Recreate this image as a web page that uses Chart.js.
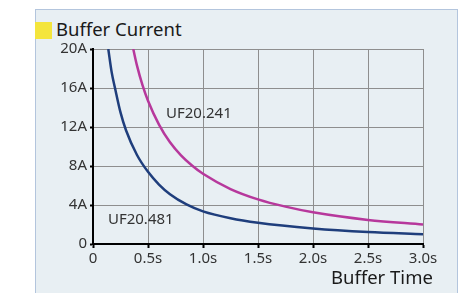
<!DOCTYPE html>
<html>
<head>
<meta charset="utf-8">
<script src="https://cdn.jsdelivr.net/npm/chart.js@4.4.1/dist/chart.umd.min.js"></script>
<style>
    html, body { margin: 0; padding: 0; width: 458px; height: 293px; overflow: hidden; background: #fff; }
    #panel {
        position: absolute; left: 35px; top: 9px; width: 421px; height: 300px;
        background: #e8eff3; border: 1px solid #b3c5dd;
    }
    #title {
        position: absolute; left: 36px; top: 17px; height: 24px;
        font-family: "Noto Sans", sans-serif; font-size: 18.5px; color: #1a1a1a;
        line-height: 24px; white-space: nowrap;
    }
    #title .swatch {
        display: inline-block; width: 17px; height: 17px; background: #f4e53c;
        vertical-align: -3px; margin-right: 4px; margin-left: -1px;
    }
    #xtitle {
        position: absolute; left: 331px; top: 265px;
        font-family: "Noto Sans", sans-serif; font-size: 18.5px; color: #1a1a1a;
        line-height: 24px; white-space: nowrap;
    }
    #wrap { position: absolute; left: 0; top: 0; width: 458px; height: 293px; }
</style>
</head>
<body>
<div id="panel"></div>
<div id="title"><span class="swatch"></span>Buffer Current</div>
<div id="wrap"><canvas id="chart"></canvas></div>
<div id="xtitle">Buffer Time</div>
<script>
// Valeurs (temps en s, courant en A)
const seriesNames = ['UF20.481', 'UF20.241'];
const seriesColors = ['#1f3e7c', '#b7389c'];

const timeUF481 = [0.139, 0.17, 0.2, 0.25, 0.3, 0.4, 0.5, 0.6, 0.7, 0.85, 1.0, 1.25, 1.5, 2.0, 2.5, 3.0];
const currentUF481 = [20, 17.6, 16, 13.5, 11.67, 9.13, 7.4, 6.1, 5.11, 4.06, 3.35, 2.64, 2.18, 1.6, 1.23, 1.0];

const timeUF241 = [0.366, 0.4, 0.45, 0.5, 0.6, 0.7, 0.8, 0.9, 1.0, 1.25, 1.5, 1.75, 2.0, 2.5, 3.0];
const currentUF241 = [20, 18.3, 16.3, 14.7, 12.25, 10.43, 9.09, 8.05, 7.2, 5.64, 4.58, 3.83, 3.25, 2.47, 2.0];

// Etiquettes des courbes (coordonnées en données)
const labelTimes = [0.136, 0.664];
const labelCurrents = [2.5, 13.4];

const xTickLabels = ['0', '0.5s', '1.0s', '1.5s', '2.0s', '2.5s', '3.0s'];
const yTickLabels = ['0', '4A', '8A', '12A', '16A', '20A'];

const toPoints = (xs, ys) => xs.map((x, i) => ({ x: x, y: ys[i] }));

const curveLabels = {
    id: 'curveLabels',
    afterDatasetsDraw(chart) {
        const { ctx, scales } = chart;
        ctx.save();
        ctx.font = '15px "Noto Sans", sans-serif';
        ctx.fillStyle = '#333';
        ctx.textAlign = 'left';
        ctx.textBaseline = 'middle';
        seriesNames.forEach((name, i) => {
            ctx.fillText(name, scales.x.getPixelForValue(labelTimes[i]), scales.y.getPixelForValue(labelCurrents[i]));
        });
        ctx.restore();
    }
};

const tickFont = { family: '"Noto Sans", sans-serif', size: 15 };

new Chart(document.getElementById('chart'), {
    type: 'line',
    data: {
        datasets: [
            { label: seriesNames[0], data: toPoints(timeUF481, currentUF481) },
            { label: seriesNames[1], data: toPoints(timeUF241, currentUF241) }
        ].map((ds, i) => Object.assign(ds, {
            borderColor: seriesColors[i],
            borderWidth: 2.5,
            pointRadius: 0,
            fill: false,
            cubicInterpolationMode: 'monotone'
        }))
    },
    options: {
        responsive: true,
        maintainAspectRatio: false,
        animation: false,
        layout: { padding: { left: 0, top: 49, right: 35, bottom: 0 } },
        plugins: { legend: { display: false }, tooltip: { enabled: false } },
        scales: {
            x: {
                type: 'linear',
                min: 0,
                max: 3,
                afterFit: (scale) => { scale.height = 49; },
                afterBuildTicks: (scale) => {
                    scale.ticks = xTickLabels.map((_, i) => ({ value: i * 0.5 }));
                },
                ticks: {
                    color: '#333',
                    font: tickFont,
                    padding: 2,
                    maxRotation: 0,
                    autoSkip: false,
                    callback: (v, idx) => xTickLabels[idx]
                },
                grid: { color: '#8e8e8e', lineWidth: 1, tickColor: '#000', tickLength: 4, tickWidth: 2 },
                border: { color: '#000', width: 2 }
            },
            y: {
                min: 0,
                max: 20,
                afterFit: (scale) => { scale.width = 93; },
                afterBuildTicks: (scale) => {
                    scale.ticks = yTickLabels.map((_, i) => ({ value: i * 4 }));
                },
                ticks: {
                    color: '#333',
                    font: tickFont,
                    padding: 3,
                    autoSkip: false,
                    callback: (v, idx) => yTickLabels[idx]
                },
                grid: { color: '#8e8e8e', lineWidth: 1, tickColor: '#000', tickLength: 3, tickWidth: 2 },
                border: { color: '#000', width: 2 }
            }
        }
    },
    plugins: [curveLabels]
});
</script>
</body>
</html>
